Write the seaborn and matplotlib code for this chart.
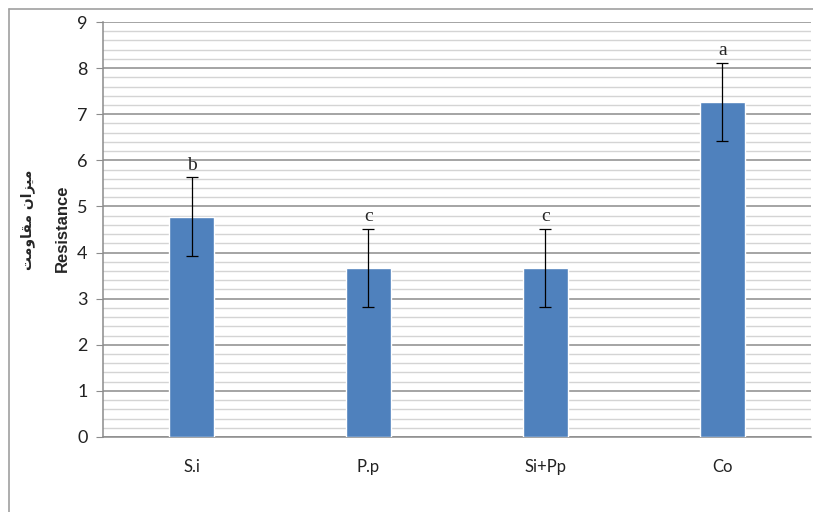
import numpy as np
import pandas as pd
import seaborn as sns
from matplotlib import pyplot as plt
from matplotlib.lines import Line2D
from matplotlib.ticker import MultipleLocator

# Data
treatments = ['S.i', 'P.p', 'Si+Pp', 'Co']
resistance = [4.78, 3.67, 3.67, 7.27]
std_err = [0.85, 0.85, 0.85, 0.85]
letters = ['b', 'c', 'c', 'a']

# Persian label, pre-shaped presentation forms in visual order ("میزان مقاومت")
fa_label = '\uFE96\uFEE3\uFEED\uFE8E\uFED8\uFEE3 \uFEE5\uFE8D\uFEB0\uFBFF\uFEE3'

df = pd.DataFrame({'treatment': treatments, 'resistance': resistance})

sns.set_style('white')
plt.rcParams['font.family'] = ['Lato', 'DejaVu Sans']

fig = plt.figure(figsize=(8.13, 5.12), dpi=100)
ax = fig.add_axes([0.1267, 0.1465, 0.8708, 0.8105])

sns.barplot(x='treatment', y='resistance', data=df, color='#4F81BD',
            width=0.25, errorbar=None, saturation=1, ax=ax, zorder=3)

# Error bars
ax.errorbar(x=np.arange(len(treatments)), y=resistance, yerr=std_err,
            fmt='none', ecolor='black', elinewidth=0.9, capsize=4,
            capthick=0.9, zorder=4)

# Significance letters
for i, (val, err, let) in enumerate(zip(resistance, std_err, letters)):
    ax.text(i, val + err + 0.08, let, ha='center', va='bottom',
            fontsize=14, family=['Liberation Serif'], zorder=5)

ax.set_xlim(-0.5, 3.5)
ax.set_ylim(0, 9)
ax.yaxis.set_major_locator(MultipleLocator(1))
ax.yaxis.set_minor_locator(MultipleLocator(0.2))
ax.grid(True, which='major', axis='y', color='#8c8c8c', linewidth=1.1, zorder=0)
ax.grid(True, which='minor', axis='y', color='#d4d4d4', linewidth=1.0, zorder=0)
ax.set_axisbelow(True)

for s in ['top', 'right']:
    ax.spines[s].set_visible(False)
for s in ['left', 'bottom']:
    ax.spines[s].set_color('#8c8c8c')
    ax.spines[s].set_linewidth(1.1)

ax.tick_params(axis='y', which='major', length=5, color='#8c8c8c',
               labelsize=13, labelcolor='#222222', pad=6, left=True)
ax.tick_params(axis='y', which='minor', length=0)
ax.tick_params(axis='x', length=0, labelsize=12, labelcolor='#222222', pad=16)

ax.set_xlabel('')
ax.set_ylabel('')

# Two-line y label: Persian and English
fig.text(28 / 813, 1 - 220 / 512, fa_label, rotation=90, ha='center', va='center',
         fontsize=10, fontweight='bold', family=['DejaVu Sans'])
fig.text(62 / 813, 1 - 228 / 512, 'Resistance', rotation=90, ha='center',
         va='center', fontsize=12, fontweight='bold', family=['Liberation Sans'])

# Outer chart border
fig.add_artist(Line2D([9 / 813, 9 / 813], [0, 1 - 9 / 512], color='#a0a0a0', linewidth=1.2))
fig.add_artist(Line2D([9 / 813, 1], [1 - 9 / 512, 1 - 9 / 512], color='#a0a0a0', linewidth=1.2))

fig.savefig('out.png', dpi=100)
